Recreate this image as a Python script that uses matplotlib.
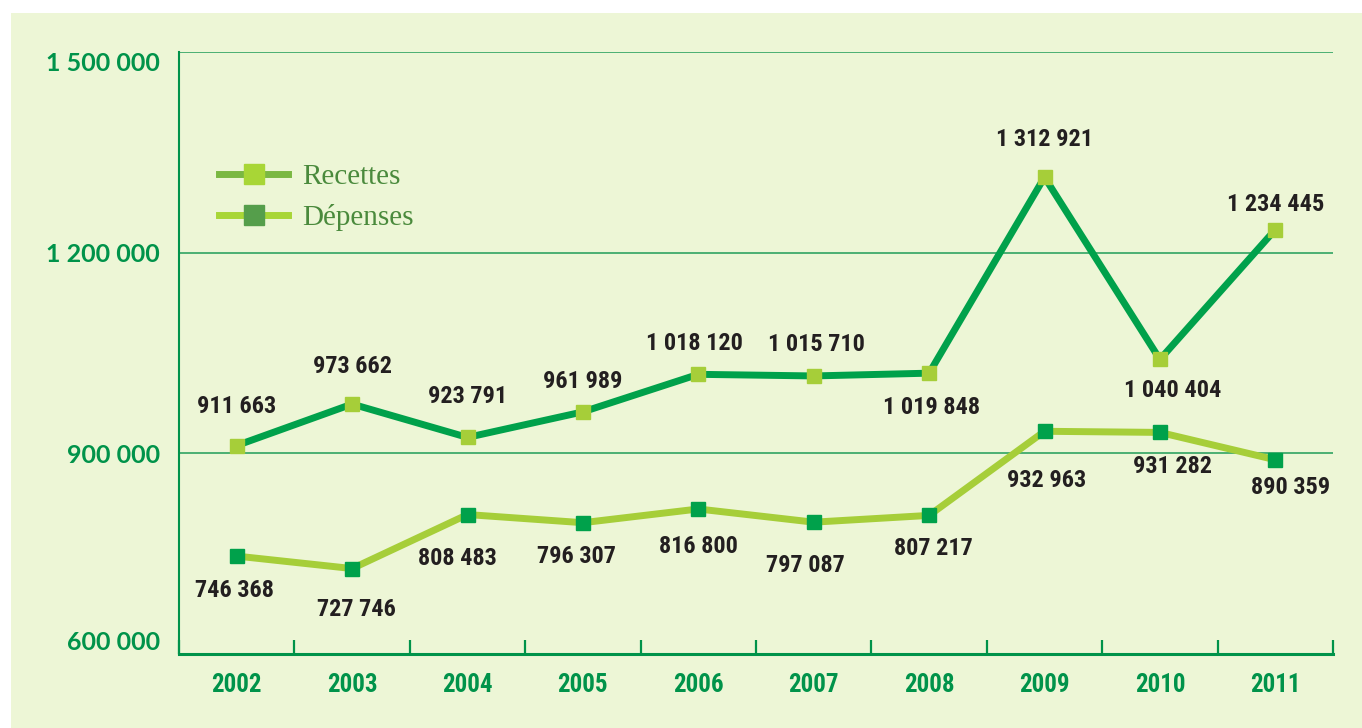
import matplotlib
matplotlib.use('Agg')
import matplotlib.pyplot as plt
from matplotlib.lines import Line2D
from matplotlib.patches import Rectangle

years = ['2002', '2003', '2004', '2005', '2006', '2007', '2008', '2009', '2010', '2011']
recettes = [911663, 973662, 923791, 961989, 1018120, 1015710, 1019848, 1312921, 1040404, 1234445]
depenses = [746368, 727746, 808483, 796307, 816800, 797087, 807217, 932963, 931282, 890359]
y_ticks = [600000, 900000, 1200000, 1500000]

# label offsets in pixels (dx, dy) relative to each point
rec_off = [(0, 39), (0, 38), (0, 41), (0, 30), (-4, 31), (3, 31), (2, -34), (0, 38), (13, -31), (0, 25)]
dep_off = [(-2, -34), (4, -41), (-10, -44), (-6, -34), (0, -38), (-8, -43), (4, -33), (2, -49), (13, -34), (15, -28)]

BG = '#edf6d6'
AX_GREEN = '#00934a'
DARK = '#00a14b'
LIGHT = '#a6ce39'
NARROW = dict(family=['Roboto Condensed', 'DejaVu Sans Condensed', 'DejaVu Sans'],
              fontstretch='condensed', fontweight='bold')


def fmt(v):
    return f'{v:,}'.replace(',', ' ')


fig = plt.figure(figsize=(13.62, 7.28), dpi=100, facecolor='white')
fig.patches.append(Rectangle((11 / 1362, 0), 1, 715 / 728, transform=fig.transFigure,
                             facecolor=BG, edgecolor='none', zorder=-10))
ax = fig.add_axes([179 / 1362, 1 - 654 / 728, 1154 / 1362, 602 / 728])
ax.set_facecolor(BG)

x = [i + 0.5 for i in range(len(years))]
ax.plot(x, recettes, color=DARK, lw=5, marker='s', ms=10, mfc=LIGHT, mec=LIGHT,
        zorder=4, solid_joinstyle='miter')
ax.plot(x, depenses, color=LIGHT, lw=5, marker='s', ms=10, mfc=DARK, mec=DARK,
        zorder=4, solid_joinstyle='miter')

for xi, v, (dx, dy) in zip(x, recettes, rec_off):
    ax.annotate(fmt(v), (xi, v), xytext=(dx, dy), textcoords='offset pixels',
                ha='center', va='center', fontsize=17.5, color='#231f20', zorder=5, **NARROW)
for xi, v, (dx, dy) in zip(x, depenses, dep_off):
    ax.annotate(fmt(v), (xi, v), xytext=(dx, dy), textcoords='offset pixels',
                ha='center', va='center', fontsize=17.5, color='#231f20', zorder=5, **NARROW)

ax.set_xlim(0, len(years))
ax.set_ylim(y_ticks[0], y_ticks[-1])

for s in ['top', 'right']:
    ax.spines[s].set_visible(False)
ax.spines['left'].set_color(AX_GREEN)
ax.spines['left'].set_linewidth(1.5)
ax.spines['bottom'].set_color(AX_GREEN)
ax.spines['bottom'].set_linewidth(2.2)

ax.set_yticks(y_ticks)
ax.set_yticklabels([fmt(v) for v in y_ticks], fontsize=18, fontweight='bold',
                   family=['Lato', 'DejaVu Sans'], color=AX_GREEN)
ylabels = ax.get_yticklabels()
ylabels[0].set_va('bottom')
ylabels[-1].set_va('top')
ax.tick_params(axis='y', length=0, pad=13.5)
ax.yaxis.grid(True, color='#1f9c58', lw=1.1)
ax.set_axisbelow(True)

ax.set_xticks(range(len(years) + 1))
ax.set_xticklabels([])
ax.set_xticks(x, minor=True)
ax.set_xticklabels(years, minor=True, fontsize=18, color=AX_GREEN, **NARROW)
ax.tick_params(axis='x', which='major', direction='in', length=10, width=1.6, color=AX_GREEN)
ax.tick_params(axis='x', which='minor', length=0, pad=14)

handles = [Line2D([], [], color='#7ab842', lw=5, marker='s', ms=14, mfc='#a8d636', mec='#a8d636'),
           Line2D([], [], color='#a8d636', lw=5, marker='s', ms=14, mfc='#559e4b', mec='#559e4b')]
leg = ax.legend(handles, ['Recettes', 'Dépenses'], loc='upper left', bbox_to_anchor=(0.035, 0.815),
                frameon=False, handlelength=2.35, handletextpad=0.5, labelspacing=0.5,
                borderpad=0, borderaxespad=0,
                prop={'family': ['Liberation Serif', 'DejaVu Serif'], 'size': 21})
for t in leg.get_texts():
    t.set_color('#4a8a3c')

fig.savefig('out.png', dpi=100, facecolor='white')
